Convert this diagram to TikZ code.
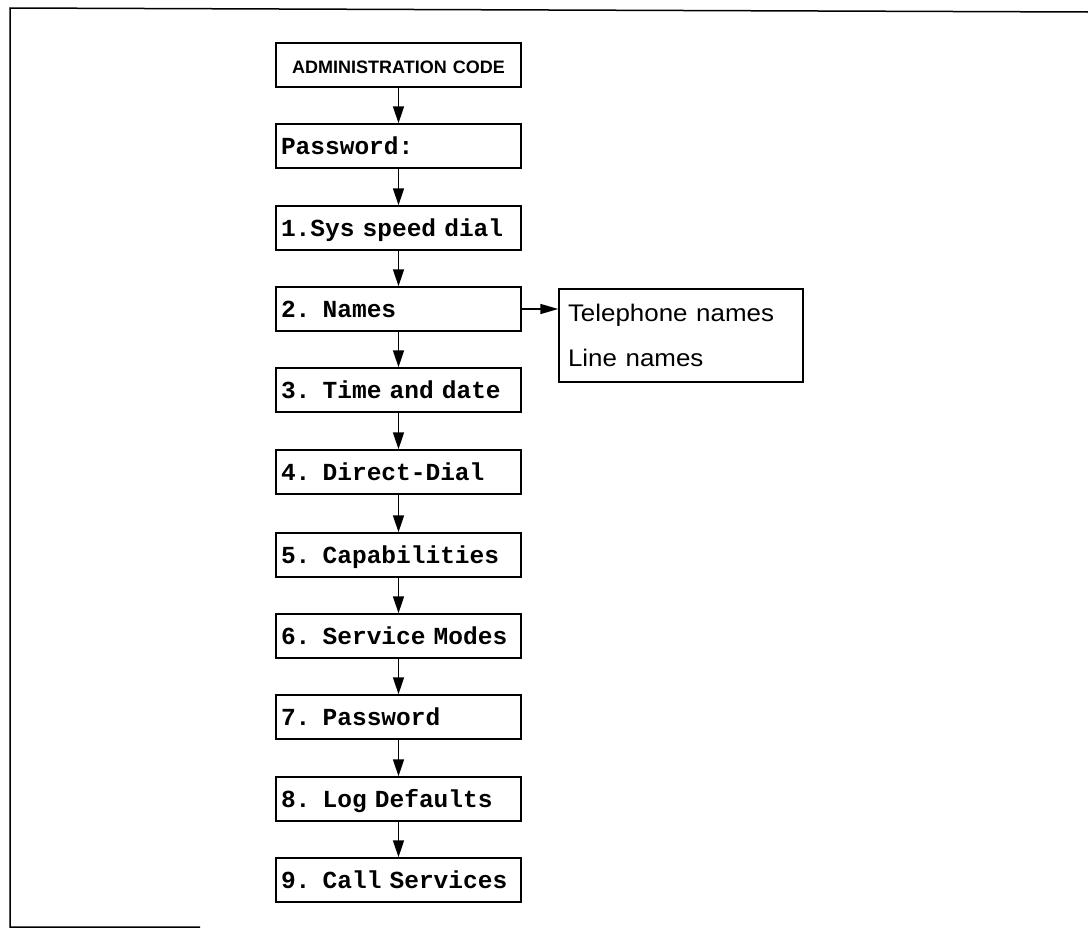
\documentclass[tikz,border=0pt]{standalone}
\usepackage{fontspec}
\newfontfamily\monof{Liberation Mono}
\newfontfamily\sansf{Liberation Sans}
\usetikzlibrary{arrows.meta}
\newcommand\fixmonospace{\fontdimen2\font=14.7pt \fontdimen3\font=0pt \fontdimen4\font=0pt \fontdimen7\font=0pt }
\begin{document}
\begin{tikzpicture}[x=1pt,y=-1pt,
  menubox/.style={draw, line width=1.5pt, minimum height=44pt, text width=235pt,
    inner xsep=5pt, inner ysep=0pt, align=left, text height=16pt, text depth=0pt,
    font=\monof\bfseries\fontsize{24.5}{26}\selectfont\fixmonospace},
  headbox/.style={menubox, align=center, font=\sansf\bfseries\fontsize{18}{20}\selectfont},
  subbox/.style={draw, line width=1.5pt, minimum height=93pt, text width=226pt,
    inner xsep=9pt, inner ysep=0pt, align=left,
    font=\sansf\fontsize{24}{45}\selectfont},
  flow/.style={line width=1.5pt, -{Triangle[length=17pt,width=11pt]}},
  sideflow/.style={line width=1.5pt, -{Triangle[length=18pt,width=10pt]}},
  frame/.style={line width=1.5pt}
]
\useasboundingbox (0,0) rectangle (1088,929);
\coordinate (f1) at (1088,12);
\coordinate (f2) at (10,8);
\coordinate (f3) at (10,927);
\coordinate (f4) at (200,927);
\draw[frame] (f1) -- (f2) -- (f3) -- (f4);

\node[headbox] (adm) at (398.5,65) {ADMINISTRATION CODE};
\node[menubox] (pw) at (398.5,146) {Password:};
\node[menubox] (m1) at (398.5,228) {1.Sys speed dial};
\node[menubox] (m2) at (398.5,309) {2. Names};
\node[menubox] (m3) at (398.5,390) {3. Time and date};
\node[menubox] (m4) at (398.5,472) {4. Direct-Dial};
\node[menubox] (m5) at (398.5,555) {5. Capabilities};
\node[menubox] (m6) at (398.5,636) {6. Service Modes};
\node[menubox] (m7) at (398.5,717) {7. Password};
\node[menubox] (m8) at (398.5,799) {8. Log Defaults};
\node[menubox] (m9) at (398.5,880) {9. Call Services};

\node[subbox] (tel) at (681,335.5) {\scalebox{1.08}[1]{Telephone names}\\\scalebox{1.08}[1]{Line names}};

\draw[flow] (adm) -- (pw);
\draw[flow] (pw) -- (m1);
\draw[flow] (m1) -- (m2);
\draw[flow] (m2) -- (m3);
\draw[flow] (m3) -- (m4);
\draw[flow] (m4) -- (m5);
\draw[flow] (m5) -- (m6);
\draw[flow] (m6) -- (m7);
\draw[flow] (m7) -- (m8);
\draw[flow] (m8) -- (m9);
\draw[sideflow] (m2.east) -- (m2.east -| tel.west);
\end{tikzpicture}
\end{document}
